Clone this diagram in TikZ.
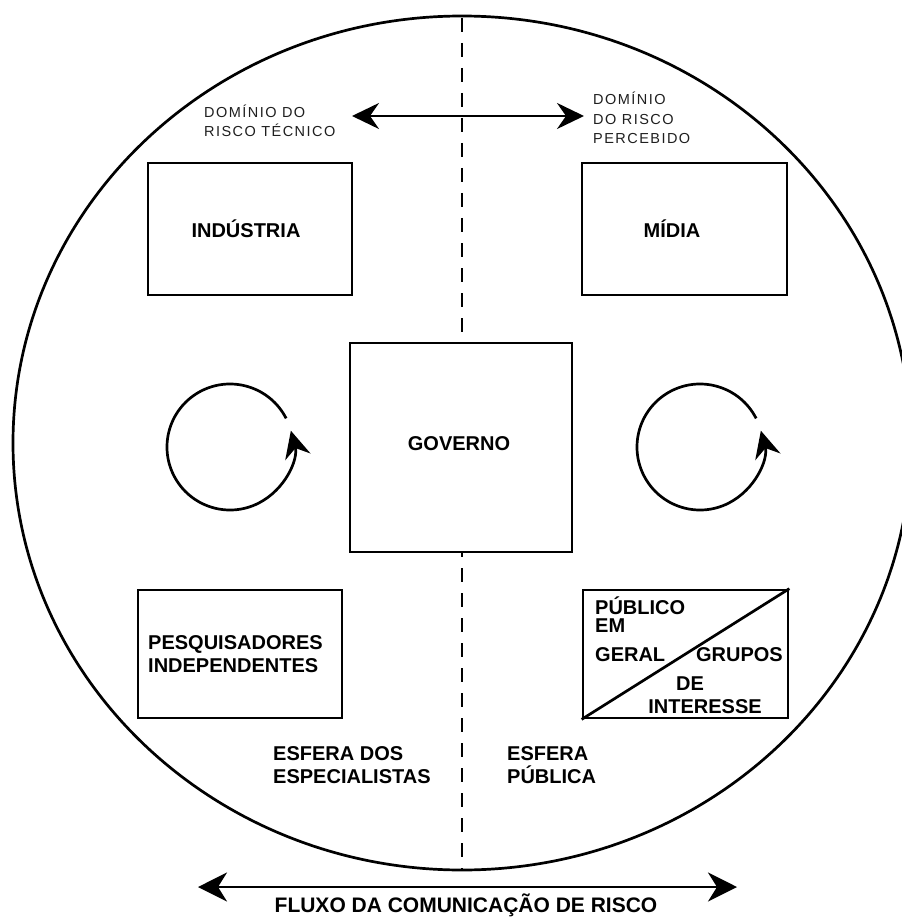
\documentclass[tikz,border=0pt]{standalone}
\usepackage{fontspec}
\setmainfont{Liberation Sans}
\newfontfamily\thinfont[LetterSpace=10]{Liberation Sans}
\usetikzlibrary{arrows.meta}
\begin{document}
\begin{tikzpicture}[x=1pt,y=-1pt,
  box/.style={draw, line width=2.7pt, fill=white, inner sep=0pt},
  lbl/.style={font=\bfseries\fontsize{20}{23}\selectfont, inner sep=0pt, align=left},
  thinlbl/.style={font=\thinfont\fontsize{14.5}{19.5}\selectfont, text=black!88, inner sep=0pt, align=left},
  heavy/.style={line width=2.7pt},
  dashline/.style={line width=2.8pt, dash pattern=on 14pt off 11pt},
  cyc/.style={line width=2.7pt, -{Stealth[length=27pt, width=26pt, inset=9pt]}}
]
\useasboundingbox (0,0) rectangle (901,917);
\fill[white] (0,0) rectangle (901,917);

% outer ellipse
\draw[heavy] (462,443) ellipse[x radius=449, y radius=427];

% dashed divider
\coordinate (dtop) at (462,18);
\coordinate (dbot) at (462,869);
\draw[dashline] (dtop) -- (dbot);

% top double arrow
\coordinate (ta1) at (352,116);
\coordinate (ta2) at (584,116);
\draw[heavy, {Stealth[length=27pt, width=26pt, inset=9pt]}-{Stealth[length=27pt, width=26pt, inset=9pt]}] (ta1) -- (ta2);

% top labels
\node[thinlbl, anchor=west] (tecnico) at (204,121) {DOMÍNIO DO\\RISCO TÉCNICO};
\node[thinlbl, anchor=west] (percebido) at (593,118) {DOMÍNIO\\DO RISCO\\PERCEBIDO};

% boxes
\node[box, minimum width=204pt, minimum height=132pt] (ind) at (250,229) {};
\node[lbl] (indt) at (246,229) {INDÚSTRIA};
\node[box, minimum width=205pt, minimum height=132pt] (mid) at (684.5,229) {};
\node[lbl] (midt) at (672,229) {MÍDIA};
\node[box, minimum width=222pt, minimum height=209pt] (gov) at (461,447.5) {};
\node[lbl] (govt) at (459,444) {GOVERNO};
\node[box, minimum width=204pt, minimum height=128pt] (pesq) at (240,654) {};
\node[lbl, anchor=west] (pesqt) at (148,654) {PESQUISADORES\\INDEPENDENTES};
\node[box, minimum width=205pt, minimum height=128pt] (pub) at (685.5,654) {};
\draw[heavy] (pub.south west) -- (pub.north east);
\node[lbl, anchor=west] (p1) at (595,606) {PÚBLICO};
\node[lbl, anchor=west] (p2) at (595,626) {EM};
\node[lbl, anchor=west] (p3) at (595,655) {GERAL};
\node[lbl, anchor=east] (p4) at (783,655) {GRUPOS};
\node[lbl] (p5) at (690,684) {DE};
\node[lbl] (p6) at (705,707) {INTERESSE};

% cycle arrows
\coordinate (c1) at (230,447);
\coordinate (c2) at (700,447);
\draw[cyc] (c1) ++(-27:63) arc[start angle=-27, end angle=-375, radius=63];
\draw[cyc] (c2) ++(-27:63) arc[start angle=-27, end angle=-375, radius=63];

% sphere labels
\node[lbl, anchor=west] (esp) at (273,765) {ESFERA DOS\\ESPECIALISTAS};
\node[lbl, anchor=west] (pubs) at (507,765) {ESFERA\\PÚBLICA};

% bottom arrow
\coordinate (ba1) at (198,887);
\coordinate (ba2) at (737,887);
\draw[heavy, {Stealth[length=29pt, width=29pt, inset=9pt]}-{Stealth[length=29pt, width=29pt, inset=9pt]}] (ba1) -- (ba2);
\node[lbl, font=\bfseries\fontsize{21}{23}\selectfont] (fluxo) at (466,905) {FLUXO DA COMUNICAÇÃO DE RISCO};
\end{tikzpicture}
\end{document}
